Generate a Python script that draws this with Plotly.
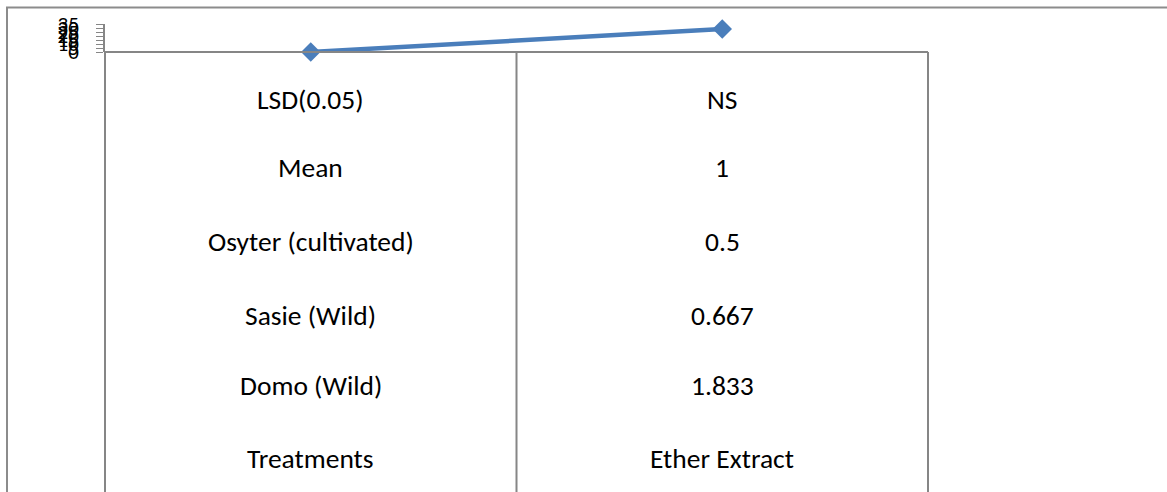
import plotly.graph_objects as go

# Category axis: two columns of a multi-level label table
categories = ["Treatments", "Ether Extract"]
series_values = [0, 28.6]

# Label table rows drawn under each category (top to bottom)
treatment_rows = ["LSD(0.05)", "Mean", "Osyter (cultivated)", "Sasie (Wild)", "Domo (Wild)", "Treatments"]
ether_rows = ["NS", "1", "0.5", "0.667", "1.833", "Ether Extract"]

y_ticks = [0, 5, 10, 15, 20, 25, 30, 35]

W, H = 1167, 492
PL, PR, PT, PB = 105, 928, 24, 52   # plot area in pixels
pw, ph = PR - PL, PB - PT

def px_x(px):
    return (px - PL) / pw

def px_y(py):
    return (PB - py) / ph

GRAY = "#868686"
FONT = "Carlito, Calibri, Lato, 'Liberation Sans', sans-serif"

fig = go.Figure()
fig.add_trace(go.Scatter(
    x=categories, y=series_values, mode="lines+markers",
    line=dict(color="#4a7ebb", width=4.5),
    marker=dict(symbol="diamond", size=15, color="#4a7ebb"),
    cliponaxis=False, showlegend=False, hoverinfo="skip",
))

shapes = []
# outer chart frame
shapes.append(dict(type="rect", xref="paper", yref="paper",
                   x0=px_x(7), x1=px_x(W + 20), y0=px_y(H + 20), y1=px_y(7.5),
                   line=dict(color="#8c8c8c", width=2), fillcolor="rgba(0,0,0,0)", layer="below"))
# table column dividers below the category axis
for fx in (0, 0.5, 1):
    shapes.append(dict(type="line", xref="paper", yref="paper",
                       x0=fx, x1=fx, y0=0, y1=px_y(H + 5),
                       line=dict(color=GRAY, width=2)))
# category axis line
shapes.append(dict(type="line", xref="paper", yref="paper",
                   x0=0, x1=1, y0=0, y1=0, line=dict(color=GRAY, width=2)))

row_centers = [99, 167, 241, 315, 385, 458]
annotations = []
for cat, rows in zip(categories, (treatment_rows, ether_rows)):
    for text, cy in zip(rows, row_centers):
        annotations.append(dict(x=cat, xref="x", y=0, yref="paper",
                                yshift=-(cy - PB), text=text, showarrow=False,
                                xanchor="center", yanchor="middle",
                                font=dict(family=FONT, size=27.5, color="#000000")))

fig.update_layout(
    width=W, height=H,
    margin=dict(l=PL, r=W - PR, t=PT, b=H - PB, autoexpand=False),
    paper_bgcolor="white", plot_bgcolor="white",
    shapes=shapes, annotations=annotations,
    xaxis=dict(type="category", range=[-0.5, 1.5], showticklabels=False,
               showgrid=False, zeroline=False, showline=False, ticks=""),
    yaxis=dict(range=[0, 35], tickvals=y_ticks, showgrid=False, zeroline=False,
               showline=True, linecolor=GRAY, linewidth=2,
               ticks="outside", ticklen=7, tickcolor=GRAY, tickwidth=1,
               ticklabelstandoff=13,
               tickfont=dict(family=FONT, size=21, color="#000000")),
)

fig.write_html("out.html")
